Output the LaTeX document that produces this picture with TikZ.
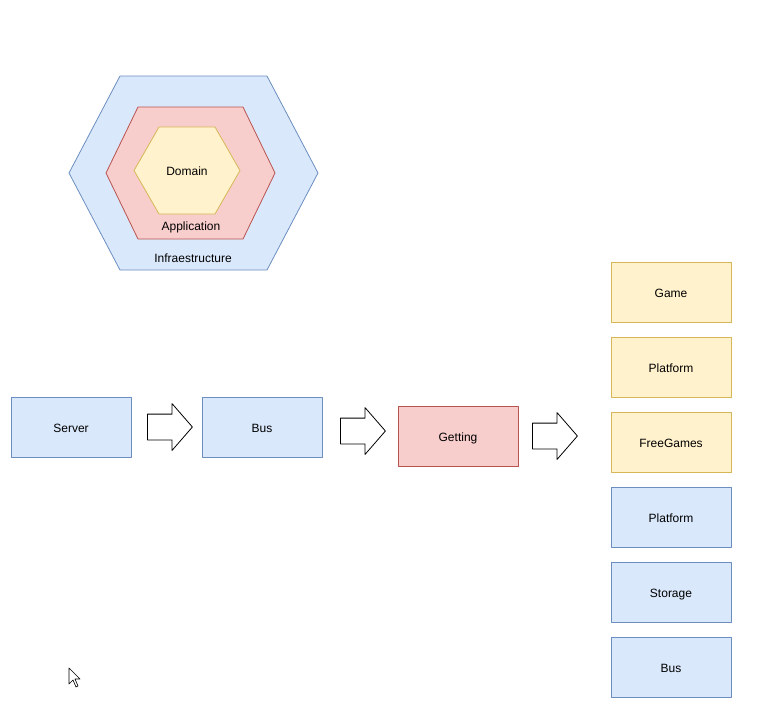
\documentclass[tikz,border=0pt]{standalone}
\usepackage{fontspec}
\setmainfont{Liberation Sans}
\usetikzlibrary{shapes.arrows}
\definecolor{infrafill}{HTML}{DAE8FC}
\definecolor{infraline}{HTML}{6C8EBF}
\definecolor{appfill}{HTML}{F8CECC}
\definecolor{appline}{HTML}{B85450}
\definecolor{domfill}{HTML}{FFF2CC}
\definecolor{domline}{HTML}{D6B656}
% hexagon: centre x, centre y, half width, half height, corner inset, style
\newcommand{\hexagon}[6]{\draw[#6] (#1-#3,#2) -- (#1-#3+#5,#2-#4) -- (#1+#3-#5,#2-#4) -- (#1+#3,#2) -- (#1+#3-#5,#2+#4) -- (#1-#3+#5,#2+#4) -- cycle;}

\begin{document}
\begin{tikzpicture}[x=1pt,y=-1pt,font=\fontsize{12}{14}\selectfont, line join=round, line width=0.8pt]
	\tikzset{
		box/.style={draw, minimum width=120pt, minimum height=60pt, inner sep=0pt, text height=10.6pt, text depth=0pt},
		infra/.style={box, fill=infrafill, draw=infraline},
		app/.style={box, fill=appfill, draw=appline},
		dom/.style={box, fill=domfill, draw=domline},
		bigarrow/.style={single arrow, draw=black, fill=white, inner xsep=0pt, inner ysep=12.5pt, anchor=tail,
			minimum height=45pt, single arrow head extend=10.5pt, single arrow tip angle=98}
	}
	\useasboundingbox (0,0) rectangle (769,721);
	% layers
	\hexagon{193.5}{173}{124.5}{97}{51}{fill=infrafill, draw=infraline}
	\hexagon{190.5}{173}{84.5}{66}{32}{fill=appfill, draw=appline}
	\hexagon{187}{170.5}{53}{43.5}{25}{fill=domfill, draw=domline}
	\node (domain) at (187,171) {Domain};
	\node (application) at (191,227) {Application};
	\node (infraestructure) at (193,258) {Infraestructure};
	% flow
	\node[infra] (server) at (71,427) {Server};
	\node[infra] (bus) at (262,427) {Bus};
	\node[app] (getting) at (458,436) {Getting};
	\node[bigarrow] (arrowA) at (147,427) {};
	\node[bigarrow] (arrowB) at (340,431) {};
	\node[bigarrow] (arrowC) at (532,436) {};
	% right column
	\foreach \y/\t/\s/\n in {292/Game/dom/game, 367/Platform/dom/platformA, 442/FreeGames/dom/freegames,
		517/Platform/infra/platformB, 592/Storage/infra/storage, 667/Bus/infra/busB}
	{\node[\s] (\n) at (671,\y) {\t};}
	% cursor
	\draw[fill=white, line width=0.6pt] (69,668) -- ++(0,16) -- ++(4,-4) -- ++(3,7) -- ++(2,-1) -- ++(-3,-7) -- ++(5,0) -- cycle;
\end{tikzpicture}
\end{document}
